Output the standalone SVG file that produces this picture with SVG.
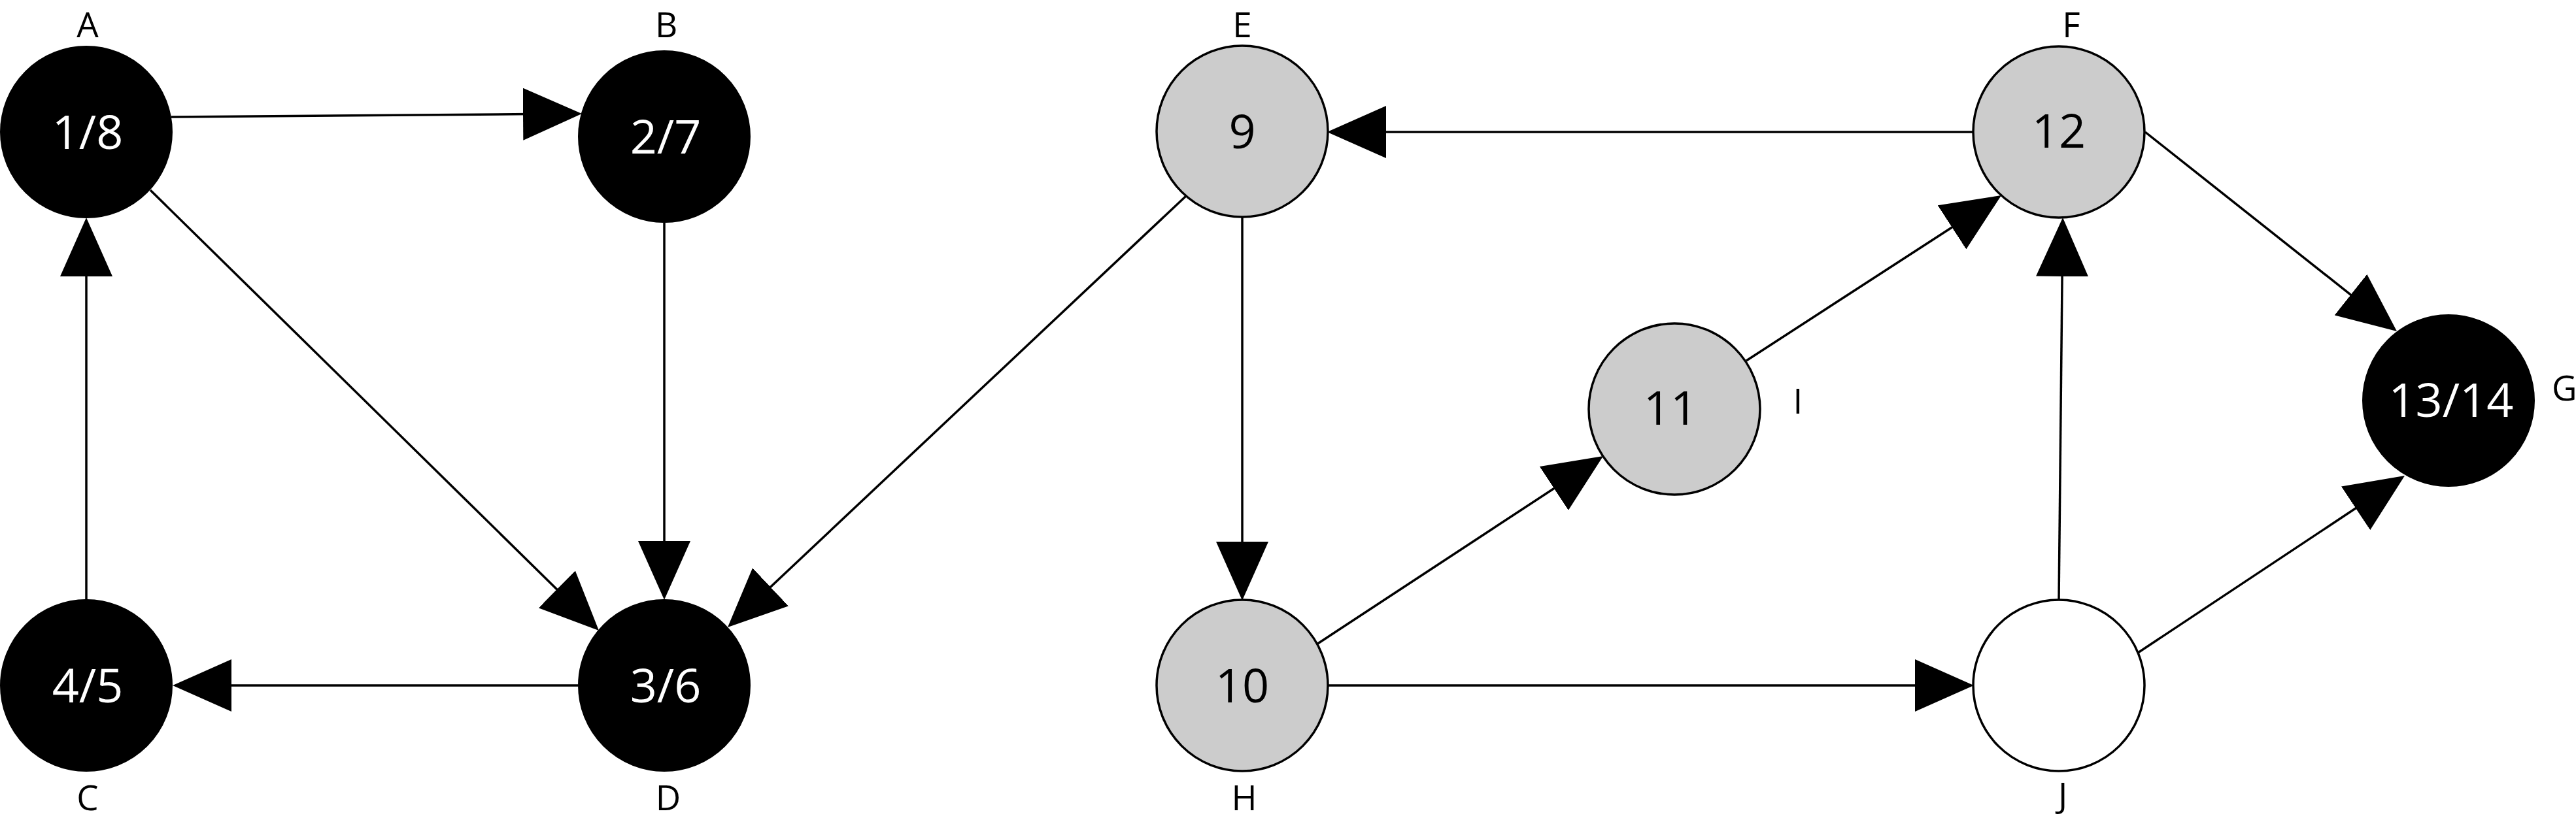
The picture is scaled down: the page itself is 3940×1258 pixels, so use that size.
<svg xmlns="http://www.w3.org/2000/svg" width="3940" height="1258" viewBox="0 0 3940 1258">
<defs>
<style>
.edge{stroke:#000;stroke-width:3.5;fill:none;marker-end:url(#arr)}
.blk{fill:#000;stroke:#000;stroke-width:2}
.gry{fill:#cccccc;stroke:#000;stroke-width:3.5}
.wht{fill:#fff;stroke:#000;stroke-width:3.5}
.num{font-family:"Open Sans","Noto Sans","Liberation Sans",sans-serif;font-size:72px;text-anchor:middle}
.lbl{font-family:"Open Sans","Noto Sans","Liberation Sans",sans-serif;font-size:53px;text-anchor:middle;fill:#000}
.wt{fill:#fff}
.bt{fill:#000}
</style>
<marker id="arr" markerUnits="userSpaceOnUse" viewBox="0 0 90 80" markerWidth="90" markerHeight="80" refX="10" refY="40" orient="auto">
<path d="M0,0 L90,40 L0,80 z" fill="#000"/>
</marker>
</defs>
<rect width="3940" height="1258" fill="#fff"/>
<g id="connectors">
<line class="edge" x1="262" y1="179" x2="810" y2="174.6"/>
<line class="edge" x1="230" y1="291" x2="858.9" y2="908.9"/>
<line class="edge" x1="1016" y1="341" x2="1016" y2="838"/>
<line class="edge" x1="884" y1="1049" x2="344" y2="1049"/>
<line class="edge" x1="132" y1="918" x2="132" y2="413"/>
<line class="edge" x1="1814" y1="300" x2="1171.2" y2="905.2"/>
<line class="edge" x1="1900" y1="332" x2="1900" y2="839"/>
<line class="edge" x1="3019" y1="202" x2="2110" y2="202"/>
<line class="edge" x1="2014" y1="986" x2="2385.2" y2="742"/>
<line class="edge" x1="2030" y1="1049" x2="2939" y2="1049"/>
<line class="edge" x1="2671" y1="552" x2="2993.9" y2="342.5"/>
<line class="edge" x1="3149" y1="919" x2="3154.2" y2="413"/>
<line class="edge" x1="3281" y1="202" x2="3603.3" y2="457.3"/>
<line class="edge" x1="3270" y1="999" x2="3611.4" y2="772.3"/>
</g>
<g id="node-A">
<circle class="blk" cx="132" cy="202" r="131"/>
<text class="num wt" x="134" y="228">1/8</text>
<text class="lbl" x="134" y="57">A</text>
</g>
<g id="node-B">
<circle class="blk" cx="1016" cy="209" r="131"/>
<text class="num wt" x="1018" y="235">2/7</text>
<text class="lbl" x="1019" y="57">B</text>
</g>
<g id="node-C">
<circle class="blk" cx="132" cy="1049" r="131"/>
<text class="num wt" x="134" y="1075">4/5</text>
<text class="lbl" x="134" y="1240">C</text>
</g>
<g id="node-D">
<circle class="blk" cx="1016" cy="1049" r="131"/>
<text class="num wt" x="1018" y="1075">3/6</text>
<text class="lbl" x="1022" y="1240">D</text>
</g>
<g id="node-E">
<circle class="gry" cx="1900" cy="201" r="131"/>
<text class="num bt" x="1900" y="227">9</text>
<text class="lbl" x="1900" y="57">E</text>
</g>
<g id="node-F">
<circle class="gry" cx="3149" cy="202" r="131"/>
<text class="num bt" x="3149" y="226">12</text>
<text class="lbl" x="3168" y="57">F</text>
</g>
<g id="node-G">
<circle class="blk" cx="3745" cy="613" r="131"/>
<text class="num wt" x="3749" y="638">13/14</text>
<text class="lbl" x="3903" y="613" style="text-anchor:start">G</text>
</g>
<g id="node-H">
<circle class="gry" cx="1900" cy="1049" r="131"/>
<text class="num bt" x="1900" y="1075">10</text>
<text class="lbl" x="1903" y="1240">H</text>
</g>
<g id="node-I">
<circle class="gry" cx="2561" cy="626" r="131"/>
<text class="num bt" x="2555" y="650">11</text>
<text class="lbl" x="2750" y="633">I</text>
</g>
<g id="node-J">
<circle class="wht" cx="3149" cy="1049" r="131"/>
<text class="lbl" x="3155" y="1236">J</text>
</g>
</svg>
